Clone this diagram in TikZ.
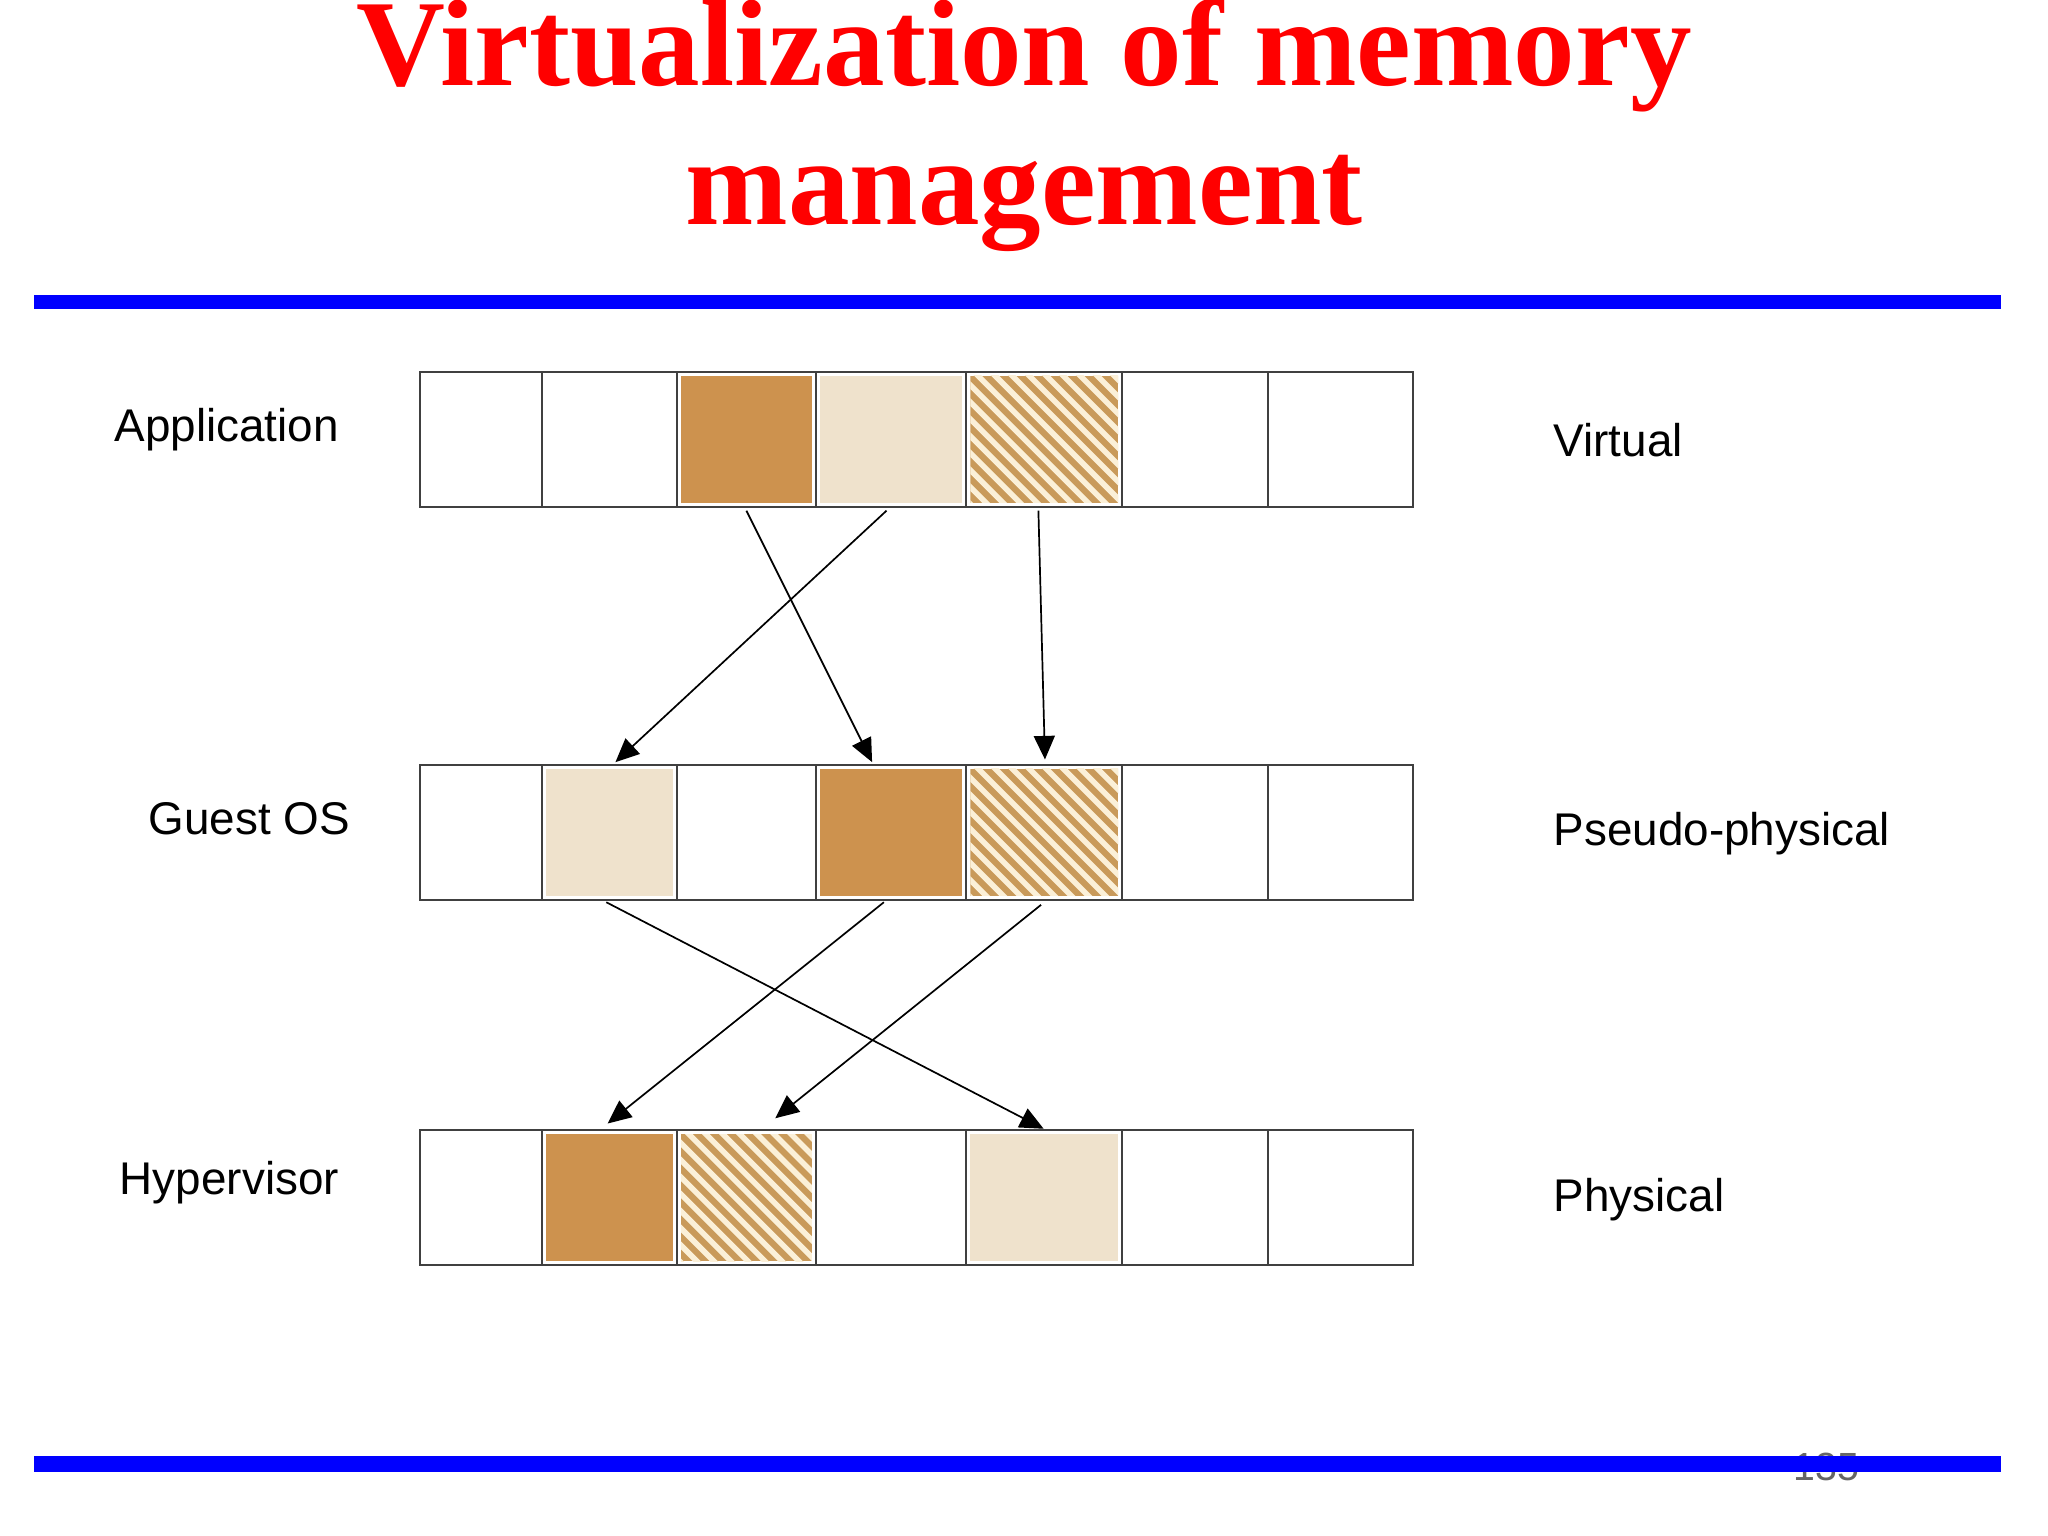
\documentclass[tikz,border=0pt]{standalone}
\usepackage{fontspec}
\setmainfont{Liberation Serif}
\newfontfamily\lsans{Liberation Sans}
\definecolor{dark}{HTML}{CD924E}
\definecolor{light}{HTML}{EFE2CC}
\definecolor{hatchbg}{HTML}{C99A5A}
\definecolor{hatchfg}{HTML}{FBF0D8}
\begin{document}
\begin{tikzpicture}[x=1pt,y=-1pt,
  lbl/.style={font=\lsans\fontsize{35}{40}\selectfont,anchor=west},
  cell/.style={draw=black!75,line width=1.6pt},
  arr/.style={-{Triangle[length=18pt,width=16pt]},line width=1.3pt}]
\usetikzlibrary{arrows.meta}
\useasboundingbox (0,0) rectangle (1564,1173);
\fill[white] (0,0) rectangle (1564,1173);
\node[text=red,font=\bfseries\fontsize{94}{100}\selectfont] (t1) at (782,42) {Virtualization of memory};
\node[text=red,font=\bfseries\fontsize{94}{100}\selectfont] (t2) at (782,155) {management};
\fill[blue] (26,225) rectangle (1528,236);
\node[text=black!60,font=\lsans\fontsize{30}{30}\selectfont] (pg) at (1395,1120) {135};
\fill[blue] (26,1112) rectangle (1528,1124);
\def\xs{{321,414,517,623,738,857,968,1079}}
\newcommand\fillcell[3]{%
  \pgfmathsetmacro\xa{\xs[#1]+3}\pgfmathsetmacro\xb{\xs[#1+1]-3}%
  \ifnum#3=1 \fill[dark] (\xa,#2+3) rectangle (\xb,#2+100);\fi
  \ifnum#3=2 \fill[light] (\xa,#2+3) rectangle (\xb,#2+100);\fi
  \ifnum#3=3 \begin{scope}
    \clip (\xa,#2+3) rectangle (\xb,#2+100);
    \fill[hatchbg] (\xa,#2+3) rectangle (\xb,#2+100);
    \foreach \k in {-10,...,10}{\draw[hatchfg,line width=4.2pt] (\xa+\k*13-20,#2-10) -- ++(140,140);}
  \end{scope}\fi}
\newcommand\row[1]{%
  \foreach \i in {0,...,6}{\pgfmathsetmacro\xa{\xs[\i]}\pgfmathsetmacro\xb{\xs[\i+1]}%
    \draw[cell] (\xa,#1) rectangle (\xb,#1+103);}}
\fillcell{2}{284}{1}\fillcell{3}{284}{2}\fillcell{4}{284}{3}
\fillcell{1}{584}{2}\fillcell{3}{584}{1}\fillcell{4}{584}{3}
\fillcell{1}{863}{1}\fillcell{2}{863}{3}\fillcell{4}{863}{2}
\row{284}\row{584}\row{863}
\node[lbl] (app) at (84,328) {Application};
\node[lbl] (gos) at (110,625) {Guest OS};
\node[lbl] (hyp) at (88,903) {Hypervisor};
\node[lbl] (vir) at (1183,336) {Virtual};
\node[lbl] (pse) at (1183,637) {Pseudo-physical};
\node[lbl] (phy) at (1183,916) {Physical};
\coordinate (a1) at (570,390); \coordinate (b1) at (666,582);
\coordinate (a2) at (677,390); \coordinate (b2) at (470,582);
\coordinate (a3) at (793,390); \coordinate (b3) at (798,580);
\coordinate (c1) at (463,689); \coordinate (d1) at (797,862);
\coordinate (c2) at (675,689); \coordinate (d2) at (464,858);
\coordinate (c3) at (795,691); \coordinate (d3) at (592,854);
\foreach \s/\e in {a1/b1,a2/b2,a3/b3,c1/d1,c2/d2,c3/d3}{\draw[arr] (\s) -- (\e);}
\end{tikzpicture}
\end{document}
